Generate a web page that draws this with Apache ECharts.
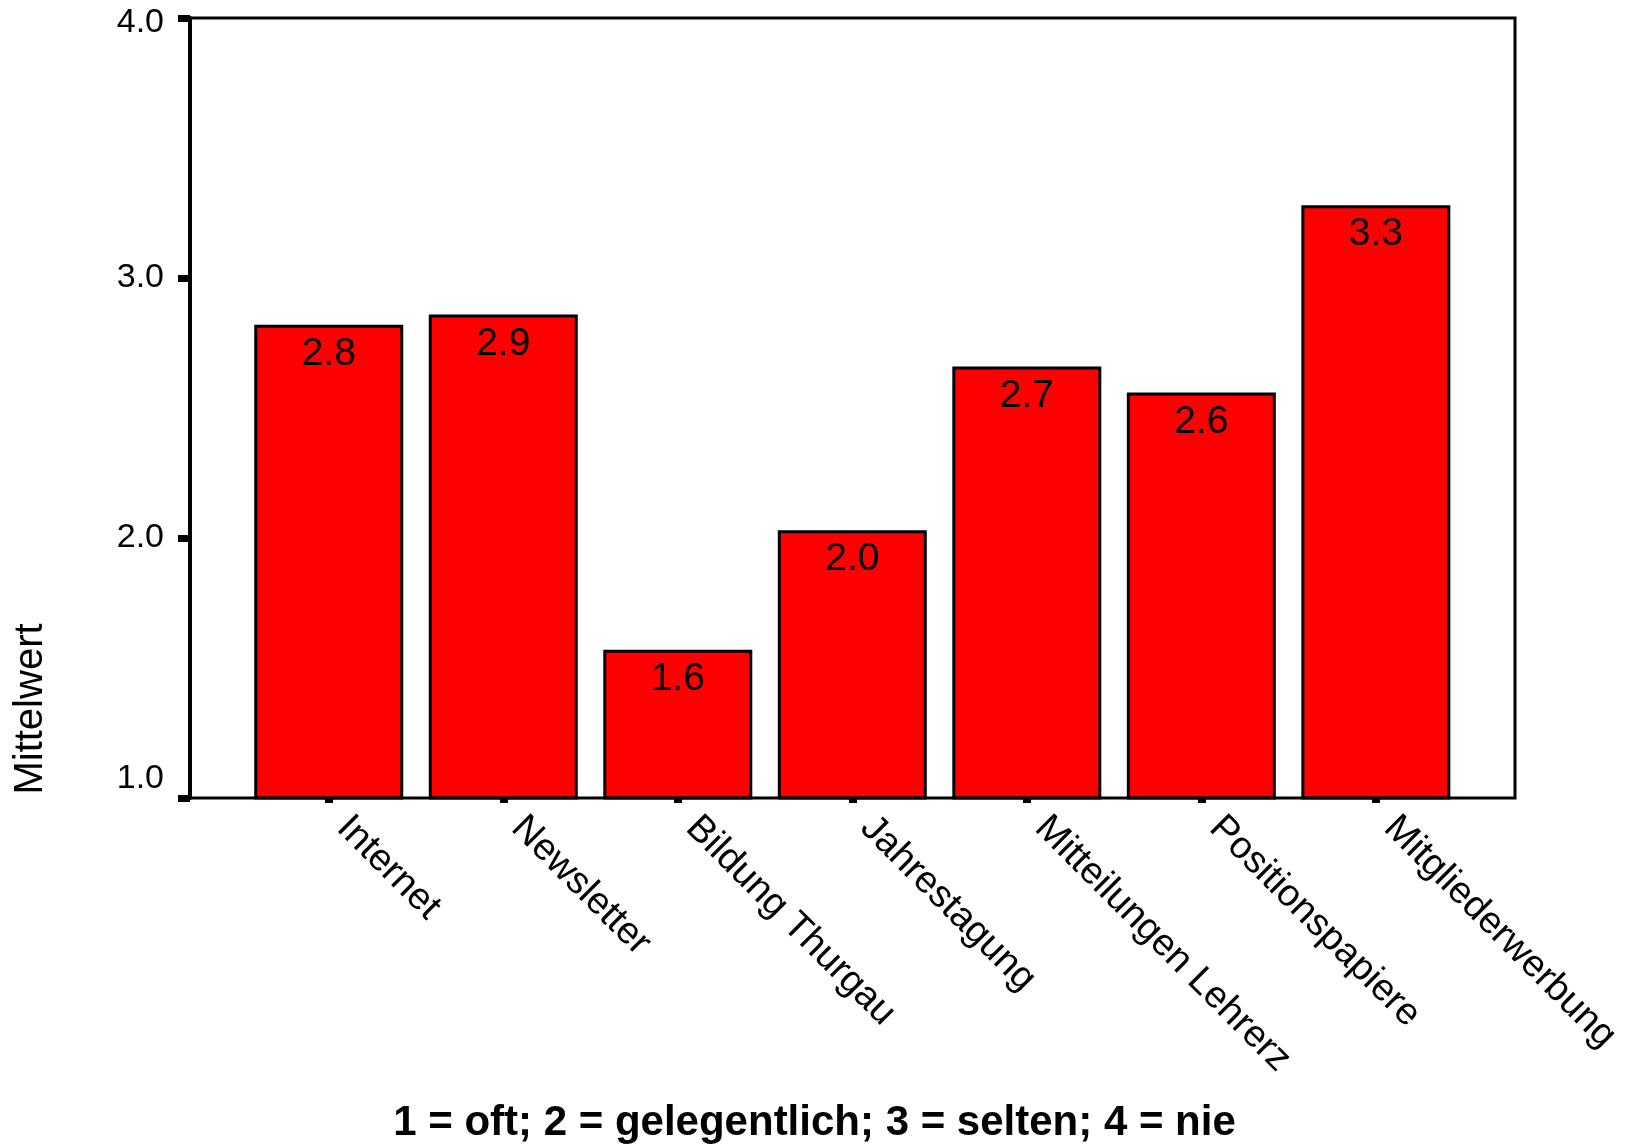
<!DOCTYPE html>
<html>
<head>
<meta charset="utf-8">
<script src="https://cdn.jsdelivr.net/npm/echarts@6/dist/echarts.min.js"></script>
<style>
html,body{margin:0;padding:0;background:#fff;}
#chart{width:1629px;height:1146px;}
</style>
</head>
<body>
<div id="chart"></div>
<script>
const categories = ['Internet', 'Newsletter', 'Bildung Thurgau', 'Jahrestagung', 'Mitteilungen Lehrerz', 'Positionspapiere', 'Mitgliederwerbung'];
const meanValues = [2.82, 2.86, 1.57, 2.03, 2.66, 2.56, 3.28];
const yTicks = [1, 2, 3, 4];
const yAxisTitle = 'Mittelwert';
const xAxisTitle = '1 = oft; 2 = gelegentlich; 3 = selten; 4 = nie';

const FONT = 'Arial, "Liberation Sans", sans-serif';
const yMin = yTicks[0], yMax = yTicks[yTicks.length - 1], yStep = yTicks[1] - yTicks[0];

const chart = echarts.init(document.getElementById('chart'), null, {renderer: 'canvas'});
const option = {
  backgroundColor: '#ffffff',
  animation: false,
  title: {
    text: xAxisTitle,
    left: 'center',
    top: 1097,
    textStyle: {fontFamily: FONT, fontWeight: 'bold', fontSize: 42, color: '#000'}
  },
  graphic: [{
    type: 'text',
    x: 31, y: 709,
    rotation: Math.PI / 2,
    style: {text: yAxisTitle, fontFamily: FONT, fontSize: 40, fill: '#000', align: 'center', verticalAlign: 'middle'}
  }],
  grid: [
    {left: 190, top: 18, width: 1325, height: 780, show: true, borderColor: '#000', borderWidth: 3, backgroundColor: 'transparent', z: 5},
    {left: 241.5, top: 18, width: 1221.6, height: 780, show: false}
  ],
  xAxis: [
    {gridIndex: 0, type: 'value', min: 0, max: 1, show: false},
    {
      gridIndex: 1, type: 'category', data: categories,
      axisLine: {show: false},
      axisTick: {show: true, alignWithLabel: true, length: 5, lineStyle: {width: 8, color: '#000'}},
      axisLabel: {rotate: -45, fontFamily: FONT, fontSize: 38, color: '#000', margin: 10, padding: [0, 0, 0, 20], interval: 0}
    }
  ],
  yAxis: [
    {
      gridIndex: 0, type: 'value', min: yMin, max: yMax, interval: yStep,
      axisLine: {show: true, lineStyle: {color: '#000', width: 4}},
      axisTick: {show: true, inside: false, length: 12, lineStyle: {color: '#000', width: 7}},
      splitLine: {show: false},
      axisLabel: {
        margin: 26, color: '#000', fontFamily: FONT, fontSize: 34,
        formatter: function (v) {
          const s = v.toFixed(1);
          if (v === yMin) return '{lo|' + s + '}';
          if (v === yMax) return '{hi|' + s + '}';
          return s;
        },
        rich: {
          lo: {fontFamily: FONT, fontSize: 34, color: '#000', padding: [0, 0, 38, 0]},
          hi: {fontFamily: FONT, fontSize: 34, color: '#000', padding: [10, 0, 0, 0]}
        }
      }
    },
    {gridIndex: 1, type: 'value', min: yMin, max: yMax, interval: yStep, show: false}
  ],
  series: [{
    type: 'bar',
    xAxisIndex: 1, yAxisIndex: 1,
    data: meanValues,
    barWidth: 149,
    itemStyle: {color: '#ff0000', borderColor: '#000', borderWidth: 3},
    label: {
      show: true, position: 'insideTop', distance: 10,
      fontFamily: FONT, fontSize: 39, color: '#000',
      formatter: function (p) { return p.value.toFixed(1); }
    }
  }]
};
chart.setOption(option);
</script>
</body>
</html>
